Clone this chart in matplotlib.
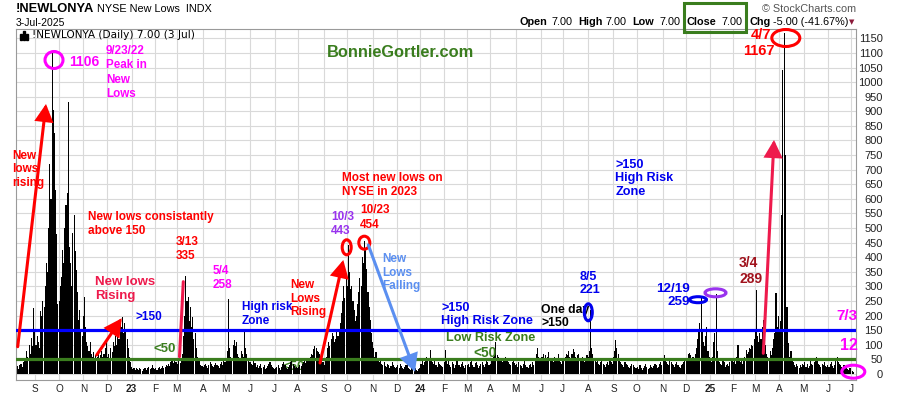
import numpy as np
import matplotlib
matplotlib.use('Agg')
import matplotlib.pyplot as plt
from matplotlib.patches import Ellipse, Rectangle, FancyArrowPatch

plt.rcParams['font.family'] = ['Liberation Sans', 'DejaVu Sans']

# ---------------- data (daily NYSE new lows, trading days per month) -------------
aug22 = [22, 28, 18, 30, 35, 25, 40, 55, 45, 80, 60, 100, 70, 125, 95, 225]
sep22 = [150, 100, 130, 110, 90, 215, 200, 250, 230, 300, 380, 350, 500, 720, 600, 1106, 905, 826, 630, 480, 240]
oct22 = [250, 300, 333, 425, 380, 500, 579, 620, 933, 436, 380, 300, 483, 545, 420, 356, 280, 185, 220, 150, 130]
nov22 = [200, 265, 160, 110, 95, 80, 110, 70, 60, 75, 50, 65, 60, 70, 55, 65, 80, 60, 70, 90, 110]
dec22 = [60, 70, 55, 90, 75, 110, 95, 130, 100, 150, 120, 170, 160, 196, 140, 175, 150, 120, 90, 60, 40]
jan23 = [25, 18, 20, 15, 22, 17, 14, 20, 18, 12, 16, 22, 19, 14, 20, 25, 18, 22, 30, 20]
feb23 = [18, 22, 15, 20, 25, 18, 22, 28, 20, 24, 30, 26, 35, 28, 40, 45, 38, 50, 42]
mar23 = [40, 35, 45, 38, 55, 70, 130, 200, 335, 250, 265, 180, 230, 160, 196, 120, 140, 90, 60, 50, 45, 30, 28]
apr23 = [25, 30, 35, 28, 22, 30, 40, 35, 28, 25, 32, 38, 30, 26, 22, 34, 40, 30, 45]
may23 = [40, 55, 80, 258, 90, 60, 45, 100, 115, 95, 110, 70, 60, 55, 80, 70, 60, 145, 90, 70, 45, 40]
jun23 = [40, 35, 30, 45, 38, 25, 30, 22, 28, 35, 20, 25, 30, 18, 22, 28, 35, 40, 30, 25, 20]
jul23 = [18, 22, 25, 30, 20, 15, 25, 35, 40, 30, 22, 18, 25, 30, 40, 55, 35, 28, 20, 25]
aug23 = [20, 25, 30, 28, 35, 40, 45, 38, 50, 55, 48, 60, 70, 65, 85, 95, 90, 80, 75, 70, 60, 50, 40]
sep23 = [30, 45, 60, 90, 110, 95, 120, 140, 130, 110, 120, 145, 130, 150, 175, 210, 250, 300, 260, 330]
oct23 = [300, 443, 350, 290, 300, 250, 220, 180, 200, 240, 280, 330, 300, 400, 380, 454, 425, 360, 280, 230, 185, 140]
nov23 = [110, 90, 60, 75, 50, 45, 40, 55, 35, 30, 40, 28, 25, 35, 30, 22, 28, 40, 30, 25, 20]
dec23 = [25, 30, 20, 35, 28, 22, 18, 25, 30, 40, 22, 18, 15, 20, 25, 28, 20, 15, 12, 18]
jan24 = [20, 35, 45, 30, 40, 50, 60, 45, 55, 82, 50, 40, 35, 45, 30, 25, 40, 35, 30, 28, 25]
feb24 = [40, 82, 50, 35, 45, 30, 25, 40, 35, 20, 30, 45, 55, 30, 25, 35, 40, 28, 22, 30]
mar24 = [30, 35, 25, 40, 45, 30, 25, 38, 42, 30, 20, 28, 35, 40, 30, 25, 35, 45, 40, 30]
apr24 = [35, 45, 50, 60, 70, 111, 65, 60, 55, 50, 45, 40, 55, 60, 50, 45, 40, 35, 30, 40, 45, 38]
may24 = [30, 35, 25, 40, 30, 28, 22, 35, 45, 30, 25, 20, 30, 35, 25, 40, 30, 55, 70, 88, 60, 50]
jun24 = [45, 60, 70, 55, 65, 50, 60, 75, 55, 45, 50, 40, 60, 55, 45, 70, 50, 40, 35]
jul24 = [45, 55, 60, 70, 65, 80, 60, 55, 70, 85, 75, 60, 50, 65, 70, 55, 45, 60, 50, 40, 55, 65]
aug24 = [60, 80, 221, 90, 70, 55, 45, 40, 50, 35, 30, 40, 45, 35, 30, 25, 35, 40, 30, 45, 40, 35]
sep24 = [60, 80, 117, 90, 70, 50, 40, 35, 30, 25, 40, 35, 30, 25, 20, 28, 35, 30, 25, 20]
oct24 = [20, 25, 18, 30, 22, 15, 20, 28, 35, 25, 18, 22, 30, 25, 20, 28, 35, 30, 22, 25, 35, 40, 30]
nov24 = [45, 65, 50, 40, 35, 30, 45, 40, 35, 30, 25, 35, 40, 30, 25, 20, 30, 35, 40, 45]
dec24 = [45, 55, 70, 72, 65, 50, 60, 55, 70, 90, 120, 150, 175, 259, 150, 110, 95, 130, 162, 80, 60]
jan25 = [55, 40, 60, 110, 140, 275, 80, 50, 40, 35, 30, 45, 40, 25, 30, 35, 28, 40, 45, 50]
feb25 = [40, 45, 35, 60, 99, 50, 40, 45, 35, 50, 60, 82, 70, 75, 90, 85, 100, 95, 120]
mar25 = [150, 289, 130, 110, 140, 120, 160, 185, 170, 100, 70, 60, 55, 80, 65, 90, 120, 140, 277, 160, 200]
apr25 = [150, 180, 545, 1042, 1167, 750, 231, 231, 105, 60, 80, 50, 40, 30, 25, 35, 28, 20, 30, 25, 35]
may25 = [30, 40, 25, 35, 20, 28, 45, 35, 30, 40, 50, 60, 45, 35, 30, 25, 35, 30, 40, 28, 25]
jun25 = [30, 25, 35, 40, 28, 22, 30, 45, 57, 40, 35, 30, 25, 20, 30, 22, 25, 18, 15, 20]
jul25 = [19, 12, 7]

months = [aug22, sep22, oct22, nov22, dec22,
          jan23, feb23, mar23, apr23, may23, jun23, jul23, aug23, sep23, oct23, nov23, dec23,
          jan24, feb24, mar24, apr24, may24, jun24, jul24, aug24, sep24, oct24, nov24, dec24,
          jan25, feb25, mar25, apr25, may25, jun25, jul25]
month_labels = ['', 'S', 'O', 'N', 'D',
                '23', 'F', 'M', 'A', 'M', 'J', 'J', 'A', 'S', 'O', 'N', 'D',
                '24', 'F', 'M', 'A', 'M', 'J', 'J', 'A', 'S', 'O', 'N', 'D',
                '25', 'F', 'M', 'A', 'M', 'J', 'J']
y_ticks = list(range(0, 1151, 50))
high_risk = 150
low_risk = 50

values = np.concatenate([np.array(m, dtype=float) for m in months])
xs = np.arange(len(values))
lengths = [len(m) for m in months]
starts = np.concatenate([[0], np.cumsum(lengths)[:-1]])

# ---------------- figure / axes ----------------
W, H = 900, 396
fig = plt.figure(figsize=(W / 100, H / 100), dpi=100)
L, R, T, B = 16, 856, 28.7, 380
ax = fig.add_axes([L / W, 1 - B / H, (R - L) / W, (B - T) / H])
X0, X1 = -0.35, len(values) + 1.4
Y0, Y1 = -20.5, 1183
ax.set_xlim(X0, X1)
ax.set_ylim(Y0, Y1)

sx = (X1 - X0) / (R - L)
sy = (Y1 - Y0) / (B - T)


def D(px, py):
    return (X0 + (px - L) * sx, Y1 - (py - T) * sy)


GRID = '#d9d9d9'
ax.set_yticks(y_ticks)
ax.set_xticks(starts[1:])
ax.set_xticklabels(month_labels[1:])
ax.grid(True, color=GRID, lw=0.8, zorder=0)
ax.set_axisbelow(True)
ax.yaxis.tick_right()
ax.tick_params(axis='y', length=0, pad=19.4, labelsize=8, labelcolor='#222222')
for lb in ax.get_yticklabels():
    lb.set_horizontalalignment('right')
ax.tick_params(axis='x', length=0, pad=3, labelsize=7.2, labelcolor='#222222')
for lb in ax.get_xticklabels():
    if lb.get_text().isdigit():
        lb.set_fontweight('bold')
for s in ax.spines.values():
    s.set_color('#9a9a9a')
    s.set_linewidth(0.8)

ax.bar(xs, values, width=0.93, color='black', linewidth=0, zorder=2)
ax.axhline(high_risk, color='#0000ff', lw=2.3, zorder=3)
ax.axhline(low_risk, color='#3a7d1e', lw=2.3, zorder=3)

RED = '#ff0000'
CRIM = '#ee1a4c'
MAG = '#ff00ff'
BLUE = '#0000ee'
PURP = '#9933ee'
CORN = '#5b8ff0'
GREEN = '#3a7d1e'
DRED = '#a0121c'


def txt(px, py, s, color, size, ha='left', va='center', weight='bold', z=6, ls=1.15):
    ax.text(*D(px, py), s, color=color, fontsize=size, ha=ha, va=va, fontweight=weight,
            zorder=z, linespacing=ls, clip_on=False, multialignment=ha)


def ell(px, py, wpx, hpx, color, lw=2.2):
    ax.add_patch(Ellipse(D(px, py), wpx * sx, hpx * sy, fill=False, edgecolor=color,
                         lw=lw, zorder=7, clip_on=False))


def arr(p0, p1, color, head=True, lw=2.2):
    style = '-|>,head_length=0.6,head_width=0.32' if head else '-'
    ax.add_patch(FancyArrowPatch(D(*p0), D(*p1), arrowstyle=style, mutation_scale=16,
                                 color=color, lw=lw, zorder=7, clip_on=False,
                                 shrinkA=0, shrinkB=0, joinstyle='miter'))


# annotations
ell(54, 60, 18, 17, MAG)
txt(69.5, 62, '1106', MAG, 10)
txt(106, 72.5, '9/23/22\nPeak in\nNew\nLows', MAG, 8.4, ls=1.28)
arr((17.7, 346.7), (46, 104), RED)
txt(12, 169.5, 'New\nlows\nrising', RED, 8.5)
txt(88, 224, 'New lows consistantly\nabove 150', RED, 8.5, ls=1.25)
txt(95, 289, 'New lows\nRising', CRIM, 9.5)
arr((96.7, 355), (121.7, 318.3), RED)
txt(135, 316.7, '>150', BLUE, 8.5)
txt(153, 349, '<50', GREEN, 9.5)
txt(176, 249, '3/13\n335', RED, 8.5, ls=1.25)
arr((179.5, 356.7), (183.3, 281.7), CRIM, head=False)
txt(213, 278, '5/4\n258', MAG, 8.5, ls=1.25)
txt(241.5, 314, 'High risk\nZone', BLUE, 8.5, ls=1.25)
txt(283, 367, '<50', GREEN, 9.5, z=1.5)
txt(290, 298.7, 'New\nLows\nRising', RED, 8.5)
arr((320, 363), (343.3, 260), RED)
txt(342, 185, 'Most new lows on\nNYSE in 2023', RED, 8.5)
txt(331, 224, '10/3\n443', PURP, 8.5, ls=1.25)
ell(346.7, 247.3, 9, 15, RED)
txt(360, 217.5, '10/23\n454', RED, 8.5, ls=1.25)
ell(364.3, 242.7, 11, 13, RED)
arr((368.3, 245), (415, 371.7), CORN)
txt(382, 272.8, 'New\nLows\nFalling', CORN, 8.5)
txt(441.5, 314.5, '>150\nHigh Risk Zone', BLUE, 9.1)
txt(446.5, 337.7, 'Low Risk Zone', GREEN, 9.1)
txt(473, 353.3, '<50', GREEN, 9.8)
txt(541.5, 316.5, 'One day\n>150', 'black', 8.8)
ell(588.3, 312.3, 8, 17, BLUE)
txt(580, 283.5, '8/5\n221', BLUE, 9)
txt(615.5, 178.3, '>150\nHigh Risk\nZone', BLUE, 9.1)
txt(690, 295.5, '12/19\n259', BLUE, 9.6, ha='right')
ell(698, 299.7, 17, 6, BLUE)
ell(715.5, 292.8, 21, 8, PURP)
txt(739, 271.3, '3/4\n289', DRED, 10, ls=1.2)
arr((763.3, 353.3), (774, 140), CRIM)
ell(785.8, 38, 28, 17, RED)
txt(771, 35, '4/7', RED, 10.5, ha='right')
txt(775, 51, '1167', RED, 10.5, ha='right')
txt(836.5, 316, '7/3', MAG, 11)
txt(840, 345, '12', MAG, 11.5)
ell(853.3, 371.7, 23, 13, MAG)
txt(327, 53, 'BonnieGortler.com', GREEN, 11.8)


# ---------------- header ----------------
def ftxt(px, py, s, size, weight='normal', color='black', ha='left', family=None):
    kw = {}
    if family:
        kw['family'] = family
    fig.text(px / W, 1 - py / H, s, fontsize=size, fontweight=weight, color=color,
             ha=ha, va='center', **kw)


ftxt(16, 9.5, '!NEWLONYA', 9.3, 'bold')
ftxt(97, 9.5, 'NYSE New Lows  INDX', 7.8)
ftxt(16, 23, '3-Jul-2025', 7.5)
ftxt(32, 35.5, '!NEWLONYA (Daily) 7.00 (3 Jul)', 7.6, family=['DejaVu Sans'])
for bx, bh in [(19.5, 5), (22.5, 8), (25.5, 6)]:
    fig.patches.append(Rectangle((bx / W, 1 - 39.5 / H), 2 / W, bh / H,
                                 transform=fig.transFigure, color='black'))
ftxt(856, 9, '\u00a9 StockCharts.com', 7.8, color='#555555', ha='right')
ohlc = [(520, 'Open', 'bold'), (551, '7.00', 'normal'), (578, 'High', 'bold'),
        (605.7, '7.00', 'normal'), (632.7, 'Low', 'bold'), (659, '7.00', 'normal'),
        (686.7, 'Close', 'bold'), (721.7, '7.00', 'normal'), (749.3, 'Chg', 'bold'),
        (772.7, '-5.00 (-41.67%)', 'normal')]
for px, s, w in ohlc:
    ftxt(px, 22.3, s, 7.8, w)
ftxt(849, 22.3, '\u25bc', 5, color='#8b1a3a', family=['DejaVu Sans'])
fig.patches.append(Rectangle((684 / W, 1 - 32 / H), 62 / W, 29 / H, transform=fig.transFigure,
                             fill=False, edgecolor=GREEN, lw=2.2))

fig.savefig('out.png', dpi=100)
